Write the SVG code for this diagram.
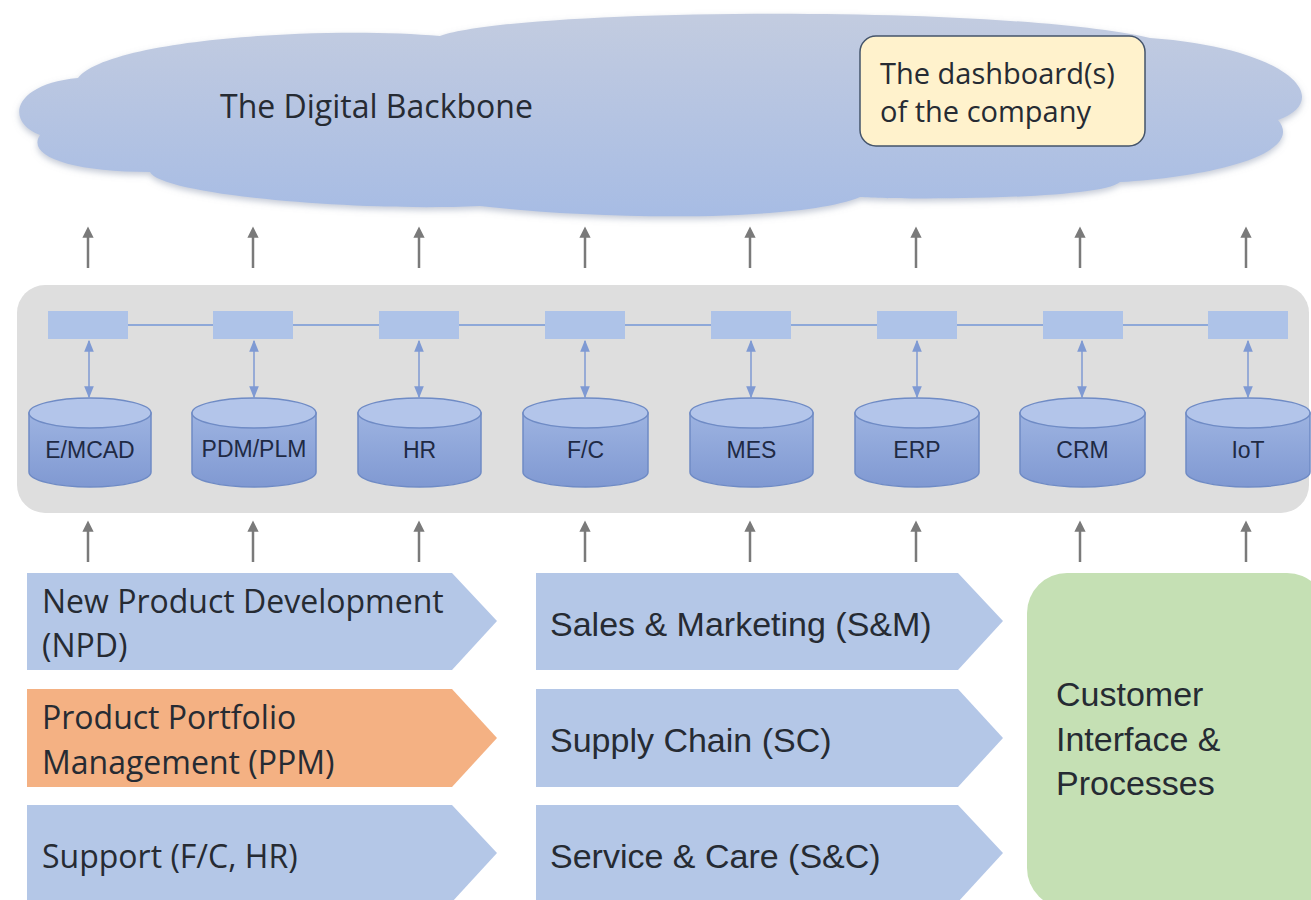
<svg xmlns="http://www.w3.org/2000/svg" width="1311" height="900" viewBox="0 0 1311 900">
<defs>
  <linearGradient id="cloudGrad" x1="0" y1="0" x2="0" y2="1">
    <stop offset="0" stop-color="#c3cce0"/>
    <stop offset="1" stop-color="#a7bce4"/>
  </linearGradient>
  <linearGradient id="cylBody" x1="0" y1="0" x2="0" y2="1">
    <stop offset="0" stop-color="#9db3e1"/>
    <stop offset="1" stop-color="#8099d2"/>
  </linearGradient>
  <filter id="soft" x="-5%" y="-10%" width="110%" height="130%">
    <feDropShadow dx="0" dy="3" stdDeviation="3" flood-color="#8a96ad" flood-opacity="0.5"/>
  </filter>
  <marker id="grayHead" viewBox="0 0 10 10" refX="5" refY="5" markerWidth="4.5" markerHeight="4.5" orient="auto-start-reverse">
    <path d="M0,0 L10,5 L0,10 Z" fill="#7a7a7a"/>
  </marker>
  <marker id="blueHead" viewBox="0 0 10 10" refX="9" refY="5" markerWidth="8" markerHeight="8" orient="auto-start-reverse">
    <path d="M0,1 L10,5 L0,9 Z" fill="#7f9ad3"/>
  </marker>
  <style>
    .t { font-family: "Open Sans", "Liberation Sans", sans-serif; fill: #262b33; }
    .m { font-family: "Liberation Sans", "Open Sans", sans-serif; fill: #262b33; }
    .chev { fill: #b4c7e7; }
    .cylTop { fill: #b3c5ea; stroke: #6f8bc5; stroke-width: 1.5; }
    .cylBody { fill: url(#cylBody); stroke: #6f8bc5; stroke-width: 1.5; }
    .cylLabel { font-family: "Liberation Sans", "Open Sans", sans-serif; font-size: 23px; fill: #1f2a44; text-anchor: middle; }
    .adapter { fill: #aec3e8; }
    .up { stroke: #7a7a7a; stroke-width: 2.5; fill: none; marker-end: url(#grayHead); }
    .dbl { stroke: #7f9ad3; stroke-width: 1.5; fill: none; marker-start: url(#blueHead); marker-end: url(#blueHead); }
  </style>
</defs>

<rect width="1311" height="900" fill="#ffffff"/>

<g id="cloud">
  <path filter="url(#soft)" fill="url(#cloudGrad)" d="M40,135 C5,122 12,84 78,78 C110,38 330,26 440,36 C520,8 1000,4 1150,38 C1290,48 1335,100 1278,120 C1305,152 1220,176 1120,182 C1100,200 900,200 860,197 C800,222 600,220 480,206 C350,212 160,194 150,172 C70,172 26,156 40,135 Z"/>
  <text class="t" x="220" y="118" font-size="32">The Digital Backbone</text>
</g>

<g id="dashboard">
  <rect x="860" y="36" width="285" height="110" rx="16" fill="#fff2cc" stroke="#44546a" stroke-width="1.5"/>
  <text class="t" x="880" y="84" font-size="29">The dashboard(s)</text>
  <text class="t" x="880" y="122" font-size="29">of the company</text>
</g>

<g id="panel">
  <rect x="17" y="285" width="1292" height="228" rx="28" fill="#dedede"/>
</g>

<g id="connectors">
  <line x1="88" y1="268" x2="88" y2="232" class="up"/>
  <line x1="253" y1="268" x2="253" y2="232" class="up"/>
  <line x1="419" y1="268" x2="419" y2="232" class="up"/>
  <line x1="585" y1="268" x2="585" y2="232" class="up"/>
  <line x1="750" y1="268" x2="750" y2="232" class="up"/>
  <line x1="916" y1="268" x2="916" y2="232" class="up"/>
  <line x1="1080" y1="268" x2="1080" y2="232" class="up"/>
  <line x1="1246" y1="268" x2="1246" y2="232" class="up"/>

  <line x1="88" y1="562" x2="88" y2="526" class="up"/>
  <line x1="253" y1="562" x2="253" y2="526" class="up"/>
  <line x1="419" y1="562" x2="419" y2="526" class="up"/>
  <line x1="585" y1="562" x2="585" y2="526" class="up"/>
  <line x1="750" y1="562" x2="750" y2="526" class="up"/>
  <line x1="916" y1="562" x2="916" y2="526" class="up"/>
  <line x1="1080" y1="562" x2="1080" y2="526" class="up"/>
  <line x1="1246" y1="562" x2="1246" y2="526" class="up"/>

  <line x1="100" y1="325" x2="1260" y2="325" stroke="#8ea8d8" stroke-width="2"/>

  <line x1="89" y1="341" x2="89" y2="397" class="dbl"/>
  <line x1="254" y1="341" x2="254" y2="397" class="dbl"/>
  <line x1="419" y1="341" x2="419" y2="397" class="dbl"/>
  <line x1="585" y1="341" x2="585" y2="397" class="dbl"/>
  <line x1="751" y1="341" x2="751" y2="397" class="dbl"/>
  <line x1="917" y1="341" x2="917" y2="397" class="dbl"/>
  <line x1="1082" y1="341" x2="1082" y2="397" class="dbl"/>
  <line x1="1248" y1="341" x2="1248" y2="397" class="dbl"/>
</g>

<g id="adapters">
  <rect class="adapter" x="48" y="311" width="80" height="28"/>
  <rect class="adapter" x="213" y="311" width="80" height="28"/>
  <rect class="adapter" x="379" y="311" width="80" height="28"/>
  <rect class="adapter" x="545" y="311" width="80" height="28"/>
  <rect class="adapter" x="711" y="311" width="80" height="28"/>
  <rect class="adapter" x="877" y="311" width="80" height="28"/>
  <rect class="adapter" x="1043" y="311" width="80" height="28"/>
  <rect class="adapter" x="1208" y="311" width="80" height="28"/>
</g>

<g id="db-emcad">
  <path class="cylBody" d="M29,413 L29,472 A61,15 0 0 0 151,472 L151,413 Z"/>
  <ellipse class="cylTop" cx="90" cy="413" rx="61" ry="15"/>
  <text class="cylLabel" x="90" y="458">E/MCAD</text>
</g>
<g id="db-pdmplm">
  <path class="cylBody" d="M192,413 L192,472 A62,15 0 0 0 316,472 L316,413 Z"/>
  <ellipse class="cylTop" cx="254" cy="413" rx="62" ry="15"/>
  <text class="cylLabel" x="254" y="457" font-size="21">PDM/PLM</text>
</g>
<g id="db-hr">
  <path class="cylBody" d="M358,413 L358,472 A61.5,15 0 0 0 481,472 L481,413 Z"/>
  <ellipse class="cylTop" cx="419.5" cy="413" rx="61.5" ry="15"/>
  <text class="cylLabel" x="419.5" y="458">HR</text>
</g>
<g id="db-fc">
  <path class="cylBody" d="M523,413 L523,472 A62.5,15 0 0 0 648,472 L648,413 Z"/>
  <ellipse class="cylTop" cx="585.5" cy="413" rx="62.5" ry="15"/>
  <text class="cylLabel" x="585.5" y="458">F/C</text>
</g>
<g id="db-mes">
  <path class="cylBody" d="M690,413 L690,472 A61.5,15 0 0 0 813,472 L813,413 Z"/>
  <ellipse class="cylTop" cx="751.5" cy="413" rx="61.5" ry="15"/>
  <text class="cylLabel" x="751.5" y="458">MES</text>
</g>
<g id="db-erp">
  <path class="cylBody" d="M855,413 L855,472 A62,15 0 0 0 979,472 L979,413 Z"/>
  <ellipse class="cylTop" cx="917" cy="413" rx="62" ry="15"/>
  <text class="cylLabel" x="917" y="458">ERP</text>
</g>
<g id="db-crm">
  <path class="cylBody" d="M1020,413 L1020,472 A62.5,15 0 0 0 1145,472 L1145,413 Z"/>
  <ellipse class="cylTop" cx="1082.5" cy="413" rx="62.5" ry="15"/>
  <text class="cylLabel" x="1082.5" y="458">CRM</text>
</g>
<g id="db-iot">
  <path class="cylBody" d="M1186,413 L1186,472 A62,15 0 0 0 1310,472 L1310,413 Z"/>
  <ellipse class="cylTop" cx="1248" cy="413" rx="62" ry="15"/>
  <text class="cylLabel" x="1248" y="458">IoT</text>
</g>

<g id="npd">
  <path class="chev" d="M27,573 L452,573 L497,621 L452,670 L27,670 Z"/>
  <text class="t" x="42" y="613" font-size="32">New Product Development</text>
  <text class="t" x="42" y="657" font-size="32">(NPD)</text>
</g>
<g id="ppm">
  <path d="M27,689 L452,689 L497,738 L452,787 L27,787 Z" fill="#f4b183"/>
  <text class="t" x="42" y="729" font-size="32">Product Portfolio</text>
  <text class="t" x="42" y="774" font-size="32">Management (PPM)</text>
</g>
<g id="support">
  <path class="chev" d="M27,805 L452,805 L497,853 L452,902 L27,902 Z"/>
  <text class="t" x="42" y="868" font-size="32">Support (F/C, HR)</text>
</g>

<g id="sales">
  <path class="chev" d="M536,573 L958,573 L1003,621 L958,670 L536,670 Z"/>
  <text class="m" x="550" y="636" font-size="34">Sales &amp; Marketing (S&amp;M)</text>
</g>
<g id="supply">
  <path class="chev" d="M536,689 L958,689 L1003,738 L958,787 L536,787 Z"/>
  <text class="m" x="550" y="752" font-size="34">Supply Chain (SC)</text>
</g>
<g id="service">
  <path class="chev" d="M536,805 L958,805 L1003,853 L958,902 L536,902 Z"/>
  <text class="m" x="550" y="868" font-size="34">Service &amp; Care (S&amp;C)</text>
</g>

<g id="customer">
  <rect x="1027" y="573" width="300" height="335" rx="40" fill="#c5e0b4"/>
  <text class="m" x="1056" y="706" font-size="34">Customer</text>
  <text class="m" x="1056" y="751" font-size="34">Interface &amp;</text>
  <text class="m" x="1056" y="795" font-size="34">Processes</text>
</g>
</svg>
